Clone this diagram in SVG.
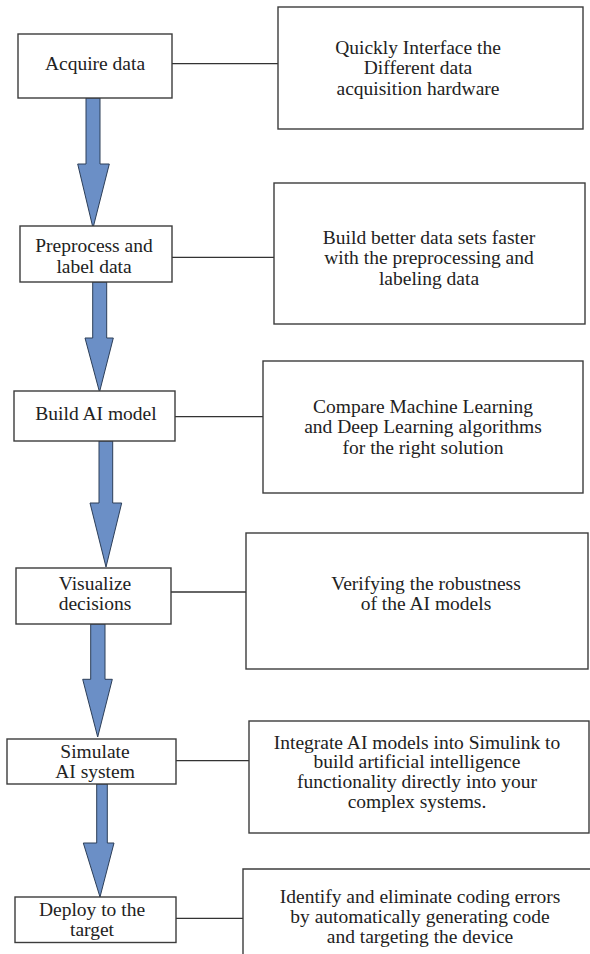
<svg xmlns="http://www.w3.org/2000/svg" width="590" height="954" viewBox="0 0 590 954">
<style>
.box{fill:#fff;stroke:#3c3c3c;stroke-width:1.4}
.t{font-family:'Liberation Serif',Tinos,'DejaVu Serif',serif;font-size:19.5px;fill:#222;text-anchor:middle}
.c{stroke:#333;stroke-width:1.3;fill:none}
.ar{fill:#6b8fc6;stroke:#2c3e58;stroke-width:1}
</style>
<rect width="590" height="954" fill="#fff"/>
<g id="connectors">
<line class="c" x1="172" y1="63.7" x2="278" y2="63.7"/>
<line class="c" x1="172" y1="257.3" x2="274" y2="257.3"/>
<line class="c" x1="175" y1="416.7" x2="263" y2="416.7"/>
<line class="c" x1="171" y1="592" x2="246" y2="592"/>
<line class="c" x1="176" y1="760.7" x2="250" y2="760.7"/>
<line class="c" x1="176" y1="918.3" x2="243" y2="918.3"/>
<polygon class="ar" points="86,98 100,98 100,164 109.3,164 93,228 77.7,164 86,164"/>
<polygon class="ar" points="92.7,282 106.7,282 106.7,338 113.3,338 99.5,392 85,338 92.7,338"/>
<polygon class="ar" points="99,441 112.7,441 112.7,503 121.7,503 106,567 90,503 99,503"/>
<polygon class="ar" points="90.7,624 105,624 105,679.3 112.3,679.3 97.7,737 82.7,679.3 90.7,679.3"/>
<polygon class="ar" points="96.7,784 107.3,784 107.3,843 114,843 100,897 83.3,843 96.7,843"/>
</g>
<g id="acquire">
<rect class="box" x="18" y="34" width="154" height="64"/>
<text class="t" x="95" y="70" font-family="Liberation Serif, serif">Acquire data</text>
</g>
<g id="preprocess">
<rect class="box" x="20" y="226" width="152" height="56"/>
<text class="t" x="94" y="252">Preprocess and</text>
<text class="t" x="94" y="273">label data</text>
</g>
<g id="build">
<rect class="box" x="14" y="391" width="161" height="50"/>
<text class="t" x="96" y="420">Build AI model</text>
</g>
<g id="visualize">
<rect class="box" x="16" y="568" width="155" height="56"/>
<text class="t" x="95" y="590">Visualize</text>
<text class="t" x="95" y="610">decisions</text>
</g>
<g id="simulate">
<rect class="box" x="7" y="739" width="169" height="45"/>
<text class="t" x="95" y="757.5">Simulate</text>
<text class="t" x="95" y="777.5">AI system</text>
</g>
<g id="deploy">
<rect class="box" x="15" y="897" width="161" height="45.5"/>
<text class="t" x="92" y="916">Deploy to the</text>
<text class="t" x="92" y="936">target</text>
</g>
<g id="r1">
<rect class="box" x="278" y="7" width="305" height="122"/>
<text class="t" x="418" y="54">Quickly Interface the</text>
<text class="t" x="418" y="74">Different data</text>
<text class="t" x="418" y="95">acquisition hardware</text>
</g>
<g id="r2">
<rect class="box" x="274" y="183" width="311" height="141"/>
<text class="t" x="429" y="244">Build better data sets faster</text>
<text class="t" x="429" y="264">with the preprocessing and</text>
<text class="t" x="429" y="285">labeling data</text>
</g>
<g id="r3">
<rect class="box" x="263" y="361" width="320" height="132"/>
<text class="t" x="423" y="413">Compare Machine Learning</text>
<text class="t" x="423" y="433">and Deep Learning algorithms</text>
<text class="t" x="423" y="454">for the right solution</text>
</g>
<g id="r4">
<rect class="box" x="246" y="533" width="342" height="136"/>
<text class="t" x="426" y="590">Verifying the robustness</text>
<text class="t" x="426" y="610">of the AI models</text>
</g>
<g id="r5">
<rect class="box" x="249" y="721" width="340" height="112"/>
<text class="t" x="417" y="749">Integrate AI models into Simulink to</text>
<text class="t" x="417" y="768">build artificial intelligence</text>
<text class="t" x="417" y="788">functionality directly into your</text>
<text class="t" x="417" y="808">complex systems.</text>
</g>
<g id="r6">
<path class="box" d="M243,960 L243,869 L592,869"/>
<text class="t" x="420" y="903">Identify and eliminate coding errors</text>
<text class="t" x="420" y="923">by automatically generating code</text>
<text class="t" x="420" y="943">and targeting the device</text>
</g>
</svg>
